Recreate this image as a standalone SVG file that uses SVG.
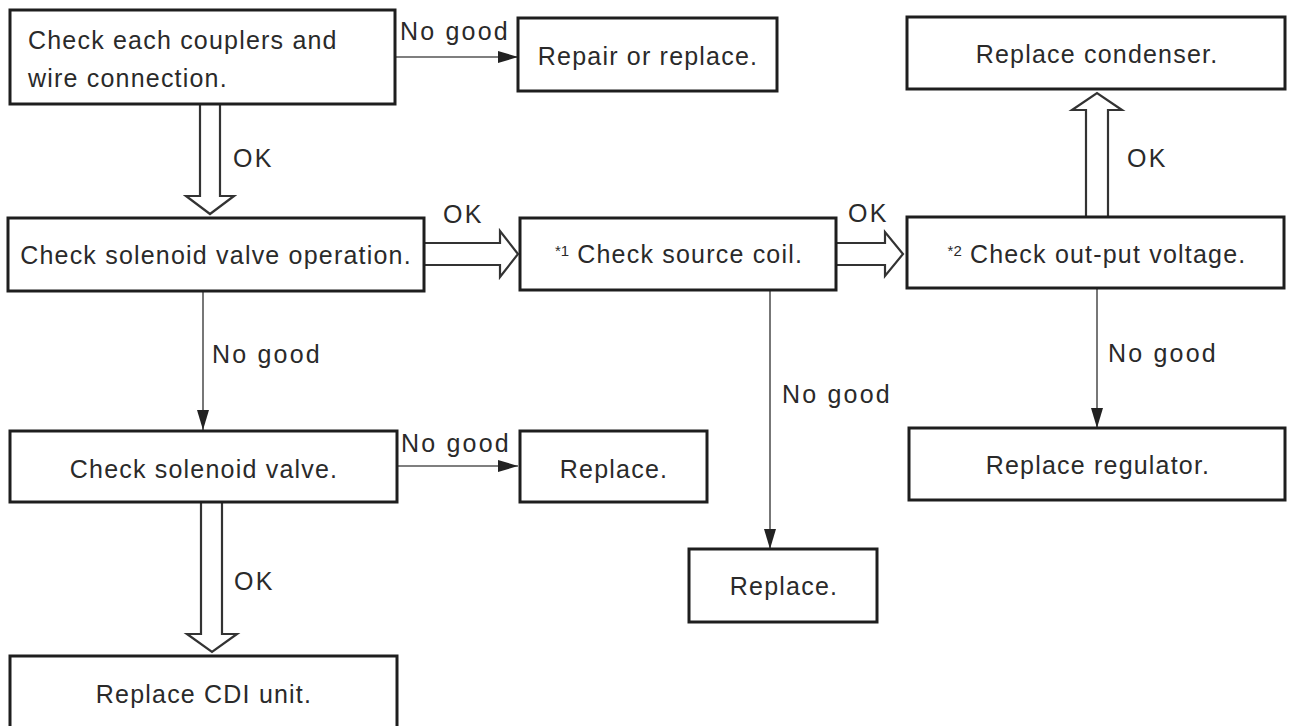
<svg xmlns="http://www.w3.org/2000/svg" width="1290" height="726" viewBox="0 0 1290 726">
<style>
.box{fill:#fff;stroke:#1e1e1e;stroke-width:3}
.t{font-family:"Liberation Sans",Arial,sans-serif;font-size:25px;letter-spacing:1.2px;fill:#2a2a2a}
.c{text-anchor:middle}
.lbl{font-family:"Liberation Sans",Arial,sans-serif;font-size:25px;letter-spacing:2.2px;fill:#2a2a2a}
.thin{stroke:#555;stroke-width:1.6;fill:none}
.dbl{fill:#fff;stroke:#333;stroke-width:2.2;stroke-linejoin:miter}
.sup{font-size:15px;letter-spacing:0}
</style>
<defs>
<marker id="ah" markerUnits="userSpaceOnUse" markerWidth="20" markerHeight="12" refX="20" refY="6" orient="auto">
<path d="M0,0 L20,6 L0,12 z" fill="#222"/>
</marker>
</defs>
<rect width="1290" height="726" fill="#fff"/>

<g id="connectors">
<line class="thin" x1="395" y1="57" x2="518" y2="57" marker-end="url(#ah)"/>
<line class="thin" x1="203" y1="291" x2="203" y2="430" marker-end="url(#ah)"/>
<line class="thin" x1="397" y1="466" x2="518" y2="466" marker-end="url(#ah)"/>
<line class="thin" x1="770" y1="290" x2="770" y2="549" marker-end="url(#ah)"/>
<line class="thin" x1="1097" y1="288" x2="1097" y2="428" marker-end="url(#ah)"/>
<polygon class="dbl" points="200,104 200,196 186,196 210,214 234,196 220,196 220,104"/>
<polygon class="dbl" points="424,243 500,243 500,231 518,254 500,277 500,265 424,265"/>
<polygon class="dbl" points="836,243 885,243 885,232 903,254 885,276 885,265 836,265"/>
<polygon class="dbl" points="1086,217 1086,110 1072,110 1097,93 1122,110 1108,110 1108,217"/>
<polygon class="dbl" points="201,502 201,634 187,634 212,652 237,634 222,634 222,502"/>
<text class="lbl" x="400" y="40">No good</text>
<text class="lbl" x="212" y="363">No good</text>
<text class="lbl" x="401" y="452">No good</text>
<text class="lbl" x="782" y="403">No good</text>
<text class="lbl" x="1108" y="362">No good</text>
<text class="lbl" x="233" y="167">OK</text>
<text class="lbl" x="443" y="223">OK</text>
<text class="lbl" x="848" y="222">OK</text>
<text class="lbl" x="1127" y="167">OK</text>
<text class="lbl" x="234" y="590">OK</text>
</g>

<g id="n1"><rect class="box" x="10" y="10" width="385" height="94"/>
<text class="t" x="28" y="49">Check each couplers and</text>
<text class="t" x="28" y="87">wire connection.</text></g>

<g id="n2"><rect class="box" x="518" y="18" width="259" height="73"/>
<text class="t c" x="648" y="65">Repair or replace.</text></g>

<g id="n3"><rect class="box" x="907" y="17" width="378" height="72"/>
<text class="t c" x="1097" y="63">Replace condenser.</text></g>

<g id="n4"><rect class="box" x="8" y="218" width="416" height="73"/>
<text class="t c" x="216" y="264">Check solenoid valve operation.</text></g>

<g id="n5"><rect class="box" x="520" y="218" width="316" height="72"/>
<text class="t c" x="679" y="263"><tspan class="sup" dy="-7">*1</tspan><tspan dy="7"> Check source coil.</tspan></text></g>

<g id="n6"><rect class="box" x="907" y="217" width="377" height="71"/>
<text class="t c" x="1097" y="263"><tspan class="sup" dy="-7">*2</tspan><tspan dy="7"> Check out-put voltage.</tspan></text></g>

<g id="n7"><rect class="box" x="10" y="431" width="387" height="71"/>
<text class="t c" x="204" y="478">Check solenoid valve.</text></g>

<g id="n8"><rect class="box" x="520" y="431" width="187" height="71"/>
<text class="t c" x="614" y="478">Replace.</text></g>

<g id="n9"><rect class="box" x="689" y="549" width="188" height="73"/>
<text class="t c" x="784" y="595">Replace.</text></g>

<g id="n10"><rect class="box" x="909" y="428" width="376" height="72"/>
<text class="t c" x="1098" y="474">Replace regulator.</text></g>

<g id="n11"><rect class="box" x="10" y="656" width="387" height="72"/>
<text class="t c" x="204" y="703">Replace CDI unit.</text></g>
</svg>
